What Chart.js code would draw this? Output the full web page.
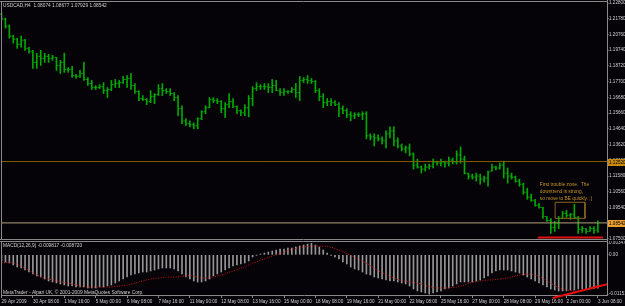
<!DOCTYPE html>
<html>
<head>
<meta charset="utf-8">
<script src="https://cdn.jsdelivr.net/npm/chart.js@4.4.0/dist/chart.umd.min.js"></script>
<style>
  html, body { margin: 0; padding: 0; background: #050308; }
  #wrap { position: relative; width: 625px; height: 306px; overflow: hidden; background: #050308; }
  #priceChart { position: absolute; left: 0; top: 0; }
  #macdChart { position: absolute; left: 0; top: 241px; }
</style>
</head>
<body>
<div id="wrap">
  <canvas id="priceChart" width="625" height="241"></canvas>
  <canvas id="macdChart" width="625" height="65"></canvas>
</div>
<script>
// USDCAD H4, bar 0 = 29 Apr 2009 00:00
const opens = [
  1.2208, 1.2176, 1.2130, 1.2065, 1.2045, 1.2012, 1.2039, 1.1986, 1.1967, 1.1895,
  1.1934, 1.1921, 1.1934, 1.1921, 1.1928, 1.1875, 1.1895, 1.1849, 1.1849, 1.1810,
  1.1804, 1.1823, 1.1784, 1.1758, 1.1732, 1.1732, 1.1738, 1.1712, 1.1719, 1.1751,
  1.1758, 1.1764, 1.1784, 1.1791, 1.1745, 1.1706, 1.1660, 1.1654, 1.1641, 1.1673,
  1.1686, 1.1725, 1.1712, 1.1706, 1.1693, 1.1667, 1.1595, 1.1516, 1.1497, 1.1490,
  1.1484, 1.1530, 1.1575, 1.1601, 1.1654, 1.1647, 1.1641, 1.1595, 1.1621, 1.1641,
  1.1608, 1.1582, 1.1569, 1.1601, 1.1660, 1.1725, 1.1738, 1.1738, 1.1738, 1.1732,
  1.1745, 1.1712, 1.1699, 1.1706, 1.1706, 1.1719, 1.1699, 1.1778, 1.1784, 1.1778,
  1.1771, 1.1712, 1.1673, 1.1634, 1.1641, 1.1634, 1.1621, 1.1595, 1.1582, 1.1556,
  1.1549, 1.1556, 1.1556, 1.1562, 1.1419, 1.1412, 1.1406, 1.1399, 1.1386, 1.1432,
  1.1451, 1.1386, 1.1353, 1.1334, 1.1340, 1.1301, 1.1229, 1.1216, 1.1203, 1.1216,
  1.1223, 1.1249, 1.1242, 1.1249, 1.1242, 1.1262, 1.1249, 1.1295, 1.1268, 1.1177,
  1.1158, 1.1151, 1.1158, 1.1138, 1.1145, 1.1190, 1.1216, 1.1210, 1.1229, 1.1177,
  1.1158, 1.1151, 1.1125, 1.1105, 1.1053, 1.1021, 1.1001, 1.0968, 1.0955, 1.0896,
  1.0870, 1.0825, 1.0851, 1.0883, 1.0916, 1.0903, 1.0910, 1.0890, 1.0812, 1.0818,
  1.0799, 1.0818, 1.08074
];
const highs = [
  1.2215, 1.2182, 1.2137, 1.2071, 1.2052, 1.2065, 1.2045, 1.1993, 1.1973, 1.1954,
  1.1973, 1.1954, 1.1947, 1.1941, 1.1928, 1.1908, 1.1954, 1.1862, 1.1869, 1.1817,
  1.1843, 1.1895, 1.1797, 1.1778, 1.1745, 1.1751, 1.1764, 1.1732, 1.1778, 1.1784,
  1.1778, 1.1804, 1.1810, 1.1823, 1.1758, 1.1712, 1.1680, 1.1660, 1.1712, 1.1693,
  1.1751, 1.1758, 1.1725, 1.1725, 1.1699, 1.1680, 1.1614, 1.1530, 1.1516, 1.1503,
  1.1536, 1.1582, 1.1614, 1.1667, 1.1667, 1.1660, 1.1647, 1.1634, 1.1693, 1.1660,
  1.1614, 1.1588, 1.1621, 1.1680, 1.1738, 1.1764, 1.1751, 1.1758, 1.1758, 1.1784,
  1.1778, 1.1725, 1.1725, 1.1712, 1.1732, 1.1758, 1.1804, 1.1797, 1.1810, 1.1791,
  1.1778, 1.1725, 1.1693, 1.1660, 1.1660, 1.1647, 1.1634, 1.1614, 1.1595, 1.1575,
  1.1569, 1.1569, 1.1575, 1.1575, 1.1432, 1.1432, 1.1425, 1.1412, 1.1451, 1.1477,
  1.1477, 1.1406, 1.1366, 1.1353, 1.1366, 1.1308, 1.1268, 1.1223, 1.1236, 1.1236,
  1.1268, 1.1255, 1.1268, 1.1255, 1.1282, 1.1275, 1.1321, 1.1347, 1.1288, 1.1177,
  1.1171, 1.1177, 1.1171, 1.1158, 1.1190, 1.1236, 1.1223, 1.1242, 1.1255, 1.1210,
  1.1177, 1.1158, 1.1138, 1.1112, 1.1079, 1.1040, 1.1007, 1.0981, 1.0955, 1.0896,
  1.0883, 1.0864, 1.0896, 1.0929, 1.0936, 1.0916, 1.0975, 1.0896, 1.0831, 1.0818,
  1.0831, 1.0831, 1.08677
];
const lows = [
  1.2169, 1.2117, 1.2052, 1.2019, 1.1986, 1.1993, 1.1973, 1.1954, 1.1856, 1.1856,
  1.1875, 1.1895, 1.1895, 1.1908, 1.1843, 1.1823, 1.1830, 1.1830, 1.1797, 1.1791,
  1.1797, 1.1778, 1.1745, 1.1719, 1.1719, 1.1725, 1.1693, 1.1667, 1.1712, 1.1732,
  1.1732, 1.1758, 1.1732, 1.1719, 1.1693, 1.1647, 1.1647, 1.1621, 1.1634, 1.1627,
  1.1680, 1.1680, 1.1693, 1.1680, 1.1647, 1.1549, 1.1497, 1.1484, 1.1477, 1.1464,
  1.1464, 1.1523, 1.1562, 1.1601, 1.1634, 1.1627, 1.1569, 1.1536, 1.1601, 1.1601,
  1.1562, 1.1549, 1.1549, 1.1543, 1.1614, 1.1712, 1.1719, 1.1719, 1.1699, 1.1699,
  1.1712, 1.1680, 1.1680, 1.1693, 1.1699, 1.1667, 1.1647, 1.1764, 1.1758, 1.1758,
  1.1699, 1.1647, 1.1601, 1.1614, 1.1614, 1.1614, 1.1543, 1.1562, 1.1536, 1.1516,
  1.1530, 1.1543, 1.1523, 1.1399, 1.1392, 1.1353, 1.1386, 1.1366, 1.1340, 1.1406,
  1.1353, 1.1340, 1.1321, 1.1308, 1.1288, 1.1203, 1.1210, 1.1177, 1.1190, 1.1203,
  1.1210, 1.1229, 1.1223, 1.1216, 1.1223, 1.1236, 1.1236, 1.1242, 1.1171, 1.1138,
  1.1138, 1.1125, 1.1105, 1.1118, 1.1092, 1.1190, 1.1197, 1.1203, 1.1145, 1.1112,
  1.1138, 1.1118, 1.1092, 1.1040, 1.1007, 1.0994, 1.0962, 1.0949, 1.0883, 1.0864,
  1.0786, 1.0799, 1.0818, 1.0883, 1.0890, 1.0877, 1.0883, 1.0786, 1.0792, 1.0786,
  1.0799, 1.0786, 1.07929
];
const closes = [
  1.2176, 1.2130, 1.2065, 1.2045, 1.2012, 1.2039, 1.1986, 1.1967, 1.1895, 1.1934,
  1.1921, 1.1934, 1.1921, 1.1928, 1.1875, 1.1895, 1.1849, 1.1849, 1.1810, 1.1804,
  1.1823, 1.1784, 1.1758, 1.1732, 1.1732, 1.1738, 1.1712, 1.1719, 1.1751, 1.1758,
  1.1764, 1.1784, 1.1791, 1.1745, 1.1706, 1.1660, 1.1654, 1.1641, 1.1673, 1.1686,
  1.1725, 1.1712, 1.1706, 1.1693, 1.1667, 1.1595, 1.1516, 1.1497, 1.1490, 1.1484,
  1.1530, 1.1575, 1.1601, 1.1654, 1.1647, 1.1641, 1.1595, 1.1621, 1.1641, 1.1608,
  1.1582, 1.1569, 1.1601, 1.1660, 1.1725, 1.1738, 1.1738, 1.1738, 1.1732, 1.1745,
  1.1712, 1.1699, 1.1706, 1.1706, 1.1719, 1.1699, 1.1778, 1.1784, 1.1778, 1.1771,
  1.1712, 1.1673, 1.1634, 1.1641, 1.1634, 1.1621, 1.1595, 1.1582, 1.1556, 1.1549,
  1.1556, 1.1556, 1.1562, 1.1419, 1.1412, 1.1406, 1.1399, 1.1386, 1.1432, 1.1451,
  1.1386, 1.1353, 1.1334, 1.1340, 1.1301, 1.1229, 1.1216, 1.1203, 1.1216, 1.1223,
  1.1249, 1.1242, 1.1249, 1.1242, 1.1262, 1.1249, 1.1295, 1.1268, 1.1177, 1.1158,
  1.1151, 1.1158, 1.1138, 1.1145, 1.1184, 1.1216, 1.1210, 1.1229, 1.1177, 1.1158,
  1.1151, 1.1125, 1.1105, 1.1053, 1.1021, 1.1001, 1.0968, 1.0955, 1.0896, 1.0870,
  1.0825, 1.0851, 1.0883, 1.0916, 1.0903, 1.0910, 1.0890, 1.0812, 1.0818, 1.0799,
  1.0818, 1.0807, 1.08542
];

// MACD(12,26,9) main (histogram) and signal
const macdMain = [
  -0.00181, -0.00211, -0.00240, -0.00299, -0.00358, -0.00387, -0.00446, -0.00505, -0.00564, -0.00622,
  -0.00652, -0.00711, -0.00770, -0.00799, -0.00828, -0.00858, -0.00887, -0.00917, -0.00917, -0.00946,
  -0.00946, -0.00946, -0.00975, -0.00975, -0.00975, -0.00946, -0.00946, -0.00917, -0.00887, -0.00828,
  -0.00770, -0.00711, -0.00652, -0.00593, -0.00564, -0.00534, -0.00505, -0.00505, -0.00476, -0.00446,
  -0.00417, -0.00387, -0.00387, -0.00387, -0.00417, -0.00476, -0.00564, -0.00652, -0.00711, -0.00770,
  -0.00799, -0.00799, -0.00770, -0.00711, -0.00622, -0.00564, -0.00505, -0.00446, -0.00387, -0.00328,
  -0.00299, -0.00270, -0.00240, -0.00181, -0.00064, -0.00005, 0.00024, 0.00054, 0.00083, 0.00113,
  0.00142, 0.00171, 0.00171, 0.00201, 0.00201, 0.00230, 0.00260, 0.00289, 0.00318, 0.00348,
  0.00289, 0.00230, 0.00142, 0.00054, -0.00005, -0.00064, -0.00123, -0.00211, -0.00270, -0.00358,
  -0.00417, -0.00446, -0.00505, -0.00564, -0.00593, -0.00652, -0.00681, -0.00711, -0.00740, -0.00770,
  -0.00770, -0.00799, -0.00828, -0.00858, -0.00917, -0.01005, -0.01063, -0.01093, -0.01122, -0.01152,
  -0.01122, -0.01093, -0.01063, -0.01005, -0.00975, -0.00917, -0.00858, -0.00799, -0.00799, -0.00799,
  -0.00799, -0.00770, -0.00740, -0.00681, -0.00622, -0.00534, -0.00476, -0.00446, -0.00446, -0.00446,
  -0.00476, -0.00505, -0.00534, -0.00593, -0.00652, -0.00711, -0.00770, -0.00828, -0.00887, -0.00946,
  -0.01005, -0.01034, -0.01063, -0.01063, -0.01063, -0.01034, -0.01034, -0.01005, -0.01005, -0.01005,
  -0.01005, -0.00990, -0.00982
];
const macdSignal = [
  -0.00240, -0.00226, -0.00211, -0.00240, -0.00270, -0.00328, -0.00387, -0.00446, -0.00534, -0.00593,
  -0.00652, -0.00681, -0.00711, -0.00740, -0.00770, -0.00799, -0.00813, -0.00828, -0.00858, -0.00887,
  -0.00917, -0.00931, -0.00946, -0.00946, -0.00946, -0.00946, -0.00946, -0.00946, -0.00946, -0.00931,
  -0.00917, -0.00902, -0.00887, -0.00858, -0.00828, -0.00799, -0.00770, -0.00740, -0.00711, -0.00696,
  -0.00681, -0.00667, -0.00652, -0.00652, -0.00652, -0.00652, -0.00622, -0.00622, -0.00608, -0.00622,
  -0.00652, -0.00681, -0.00681, -0.00681, -0.00652, -0.00622, -0.00593, -0.00564, -0.00505, -0.00476,
  -0.00446, -0.00387, -0.00358, -0.00299, -0.00240, -0.00211, -0.00152, -0.00123, -0.00079, -0.00034,
  -0.00005, 0.00039, 0.00083, 0.00127, 0.00157, 0.00186, 0.00216, 0.00230, 0.00245, 0.00260,
  0.00260, 0.00260, 0.00260, 0.00245, 0.00230, 0.00186, 0.00142, 0.00098, 0.00039, -0.00020,
  -0.00064, -0.00137, -0.00196, -0.00240, -0.00314, -0.00387, -0.00461, -0.00520, -0.00578, -0.00637,
  -0.00681, -0.00725, -0.00755, -0.00784, -0.00799, -0.00813, -0.00828, -0.00858, -0.00902, -0.00931,
  -0.00960, -0.00975, -0.00975, -0.00975, -0.00975, -0.00960, -0.00946, -0.00917, -0.00887, -0.00843,
  -0.00813, -0.00784, -0.00770, -0.00755, -0.00740, -0.00740, -0.00725, -0.00711, -0.00696, -0.00681,
  -0.00652, -0.00622, -0.00593, -0.00578, -0.00564, -0.00564, -0.00593, -0.00637, -0.00696, -0.00755,
  -0.00843, -0.00902, -0.00960, -0.01005, -0.01034, -0.01049, -0.01063, -0.01063, -0.01049, -0.01020,
  -0.00980, -0.00930, -0.00872
];

// axis labels
const priceTicks = [1.22800, 1.21780, 1.20760, 1.19740, 1.18720, 1.17700, 1.16680, 1.15660,
  1.14640, 1.13620, 1.12600, 1.11580, 1.10560, 1.09540, 1.08520, 1.07500];
const macdTicks = [0.003479, 0, -0.011518];
const macdTickLabels = ['0.003479', '0.00', '-0.011518'];
const dateTicks = [0, 8, 16, 24, 32, 40, 48, 56, 64, 72, 80, 88, 96, 104, 112, 120, 128, 136, 144, 152];
const dateLabels = ['29 Apr 2009', '30 Apr 08:00', '1 May 16:00', '5 May 00:00', '6 May 08:00',
  '7 May 16:00', '11 May 00:00', '12 May 08:00', '13 May 16:00', '15 May 00:00', '18 May 08:00',
  '19 May 16:00', '21 May 00:00', '22 May 08:00', '25 May 16:00', '27 May 00:00', '28 May 08:00',
  '29 May 16:00', '2 Jun 00:00', '3 Jun 08:00'];

// chart objects (horizontal line, bid, trouble zone box, support line, MACD trend line)
const hLineLevel = 1.12520;
const bidLevel = 1.08542;
const zoneBars = [141.1, 148.7];
const zonePrices = [1.0988, 1.0884];
const supportBars = [136.7, 153.3];
const supportLevel = 1.07595;
const macdTrendBars = [140.5, 154.3];
const macdTrendValues = [-0.01269, -0.00867];
const noteBar = 137.2;
const notePrice = 1.1099;
const noteLines = ['First trouble zone.  The', 'downtrend is strong,', 'so move to BE quickly. ;)'];

const headerText = 'USDCAD,H4  1.08074 1.08677 1.07929 1.08542';
const macdTitle = 'MACD(12,26,9) -0.009817 -0.008720';
const footerText = 'MetaTrader - Alpari UK, \u00a9 2001-2009 MetaQuotes Software Corp.';

// scale ranges
const xMin = -0.13, xMax = 154.32;
const priceMin = 1.07499, priceMax = 1.22865;
const macdMin = -0.011812, macdMax = 0.003479;

const barColor = '#00a800';
const frameColor = '#8a8a8a';
const textColor = '#cfcfcf';
const fontFamily = '"Liberation Sans", sans-serif';
const smallFont = '4.8px ' + fontFamily;
const tickFont = { size: 4.6, family: fontFamily };

// open / close ticks of OHLC bars
const ohlcTicks = {
	id: 'ohlcTicks',
	afterDatasetsDraw(chart) {
		const ctx = chart.ctx;
		const xs = chart.scales.x, ys = chart.scales.y;
		ctx.save();
		ctx.fillStyle = barColor;
		for (let i = 0; i < opens.length; i++) {
			const px = xs.getPixelForValue(i);
			ctx.fillRect(px - 1.7, ys.getPixelForValue(opens[i]) - 0.5, 1.2, 1); // open
			ctx.fillRect(px + 0.5, ys.getPixelForValue(closes[i]) - 0.5, 1.2, 1); // close
		}
		ctx.restore();
	}
};

// price window frame, header, price boxes, note
const priceFrame = {
	id: 'priceFrame',
	afterDraw(chart) {
		const ctx = chart.ctx;
		const a = chart.chartArea;
		const xs = chart.scales.x, ys = chart.scales.y;
		ctx.save();
		ctx.strokeStyle = frameColor;
		ctx.lineWidth = 1;
		ctx.beginPath();
		ctx.moveTo(0, a.top - 0.5); ctx.lineTo(a.right, a.top - 0.5);
		ctx.moveTo(a.left + 0.5, a.top - 0.5); ctx.lineTo(a.left + 0.5, a.bottom + 1);
		ctx.moveTo(0, a.bottom + 0.5); ctx.lineTo(a.right, a.bottom + 0.5);
		ctx.moveTo(a.right + 0.5, 0); ctx.lineTo(a.right + 0.5, chart.height);
		ctx.stroke();

		ctx.font = smallFont;
		ctx.textBaseline = 'middle';
		ctx.textAlign = 'left';
		ctx.fillStyle = textColor;
		ctx.fillText(headerText, 3, a.top + 3.5);

		// price labels of the lines on the scale
		ctx.font = tickFont.size + 'px ' + fontFamily;
		[[hLineLevel, '#c88a10'], [bidLevel, '#e8a030']].forEach(function(item) {
			const y = ys.getPixelForValue(item[0]);
			ctx.fillStyle = item[1];
			ctx.fillRect(a.right + 1, Math.round(y) - 3, 17, 7);
			ctx.fillStyle = '#000000';
			ctx.fillText(item[0].toFixed(5), a.right + 2, Math.round(y) + 0.5);
		});

		// text object
		ctx.font = smallFont;
		ctx.fillStyle = '#c8962c';
		noteLines.forEach(function(t, k) {
			ctx.fillText(t, xs.getPixelForValue(noteBar), ys.getPixelForValue(notePrice) + k * 7);
		});
		ctx.restore();
	}
};

// MACD window frame and texts
const macdFrame = {
	id: 'macdFrame',
	afterDraw(chart) {
		const ctx = chart.ctx;
		const a = chart.chartArea;
		ctx.save();
		ctx.strokeStyle = frameColor;
		ctx.lineWidth = 1;
		ctx.beginPath();
		ctx.moveTo(0, a.top - 1.5); ctx.lineTo(a.right, a.top - 1.5);
		ctx.moveTo(a.left + 0.5, a.top - 1.5); ctx.lineTo(a.left + 0.5, a.bottom);
		ctx.moveTo(a.right + 0.5, 0); ctx.lineTo(a.right + 0.5, a.bottom + 1);
		ctx.stroke();
		ctx.font = smallFont;
		ctx.textBaseline = 'middle';
		ctx.textAlign = 'left';
		ctx.fillStyle = textColor;
		ctx.fillText(macdTitle, 3, a.top + 2.5);
		ctx.fillText(footerText, 3, a.bottom - 2.5);
		ctx.restore();
	}
};

function levelLine(v) {
	return [{ x: xMin, y: v }, { x: xMax, y: v }];
}

function noPad(scale) {
	scale.paddingTop = 0; scale.paddingBottom = 0;
	scale.paddingLeft = 0; scale.paddingRight = 0;
}

// price chart
let priceChart = new Chart(document.getElementById('priceChart'), {
	type: 'bar',
	data: {
		datasets: [
			{
				type: 'line', data: levelLine(hLineLevel), borderColor: '#7f5f00',
				borderWidth: 1, pointRadius: 0, order: 0
			},
			{
				type: 'line', data: levelLine(bidLevel), borderColor: '#b4a278',
				borderWidth: 1, pointRadius: 0, order: 0
			},
			{
				type: 'line',
				data: [
					{ x: zoneBars[0], y: zonePrices[0] }, { x: zoneBars[1], y: zonePrices[0] },
					{ x: zoneBars[1], y: zonePrices[1] }, { x: zoneBars[0], y: zonePrices[1] },
					{ x: zoneBars[0], y: zonePrices[0] }
				],
				borderColor: '#8c6420', borderWidth: 1, pointRadius: 0, order: 0
			},
			{
				type: 'line',
				data: [{ x: supportBars[0], y: supportLevel }, { x: supportBars[1], y: supportLevel }],
				borderColor: '#e01010', borderWidth: 2, pointRadius: 0, order: 0
			},
			{
				type: 'bar',
				data: highs.map(function(h, i) { return { x: i, y: [lows[i], h] }; }),
				backgroundColor: barColor, borderWidth: 0, barThickness: 1, order: 2
			}
		]
	},
	options: {
		responsive: false,
		animation: false,
		devicePixelRatio: 1,
		events: [],
		layout: { padding: { left: 1, top: 2, right: 0, bottom: 2 } },
		plugins: { legend: { display: false }, tooltip: { enabled: false } },
		scales: {
			x: { type: 'linear', display: false, min: xMin, max: xMax, offset: false, grid: { offset: false } },
			y: {
				position: 'right',
				min: priceMin, max: priceMax, bounds: 'data',
				afterBuildTicks: function(scale) {
					scale.ticks = priceTicks.map(function(v) { return { value: v }; });
				},
				afterFit: function(scale) { scale.width = 18; noPad(scale); },
				ticks: {
					color: textColor, font: tickFont, padding: 0.5, autoSkip: false,
					callback: function(v) { return v.toFixed(5); }
				},
				grid: { drawOnChartArea: false, color: frameColor, tickLength: 1.5 },
				border: { color: frameColor }
			}
		}
	},
	plugins: [ohlcTicks, priceFrame]
});

// MACD chart
let macdChart = new Chart(document.getElementById('macdChart'), {
	type: 'bar',
	data: {
		datasets: [
			{
				type: 'line',
				data: macdSignal.map(function(v, i) { return { x: i, y: v }; }),
				borderColor: '#d01818', borderWidth: 1, borderDash: [1, 1.5],
				pointRadius: 0, order: 0
			},
			{
				type: 'line',
				data: [{ x: macdTrendBars[0], y: macdTrendValues[0] }, { x: macdTrendBars[1], y: macdTrendValues[1] }],
				borderColor: '#e80c0c', borderWidth: 2, pointRadius: 0, clip: false, order: 0
			},
			{
				type: 'bar',
				data: macdMain.map(function(v, i) { return { x: i, y: v }; }),
				backgroundColor: '#969696', borderWidth: 0, barThickness: 1, order: 2
			}
		]
	},
	options: {
		responsive: false,
		animation: false,
		devicePixelRatio: 1,
		events: [],
		layout: { padding: { left: 1, top: 2, right: 0, bottom: 0 } },
		plugins: { legend: { display: false }, tooltip: { enabled: false } },
		scales: {
			x: {
				type: 'linear', min: xMin, max: xMax, offset: false, bounds: 'data',
				afterBuildTicks: function(scale) {
					scale.ticks = dateTicks.map(function(v) { return { value: v }; });
				},
				afterFit: function(scale) { scale.height = 11; noPad(scale); },
				ticks: {
					color: textColor, font: tickFont, padding: 1, autoSkip: false,
					maxRotation: 0, align: 'start',
					callback: function(v, i) { return dateLabels[i]; }
				},
				grid: { drawOnChartArea: false, offset: false, color: frameColor, tickLength: 3 },
				border: { color: frameColor }
			},
			y: {
				position: 'right',
				min: macdMin, max: macdMax, bounds: 'data',
				afterBuildTicks: function(scale) {
					scale.ticks = macdTicks.map(function(v) { return { value: v }; });
				},
				afterFit: function(scale) { scale.width = 18; noPad(scale); },
				ticks: {
					color: textColor, font: tickFont, padding: 0.5, autoSkip: false,
					callback: function(v, i) { return macdTickLabels[i]; }
				},
				grid: { drawOnChartArea: false, color: frameColor, tickLength: 1.5 },
				border: { color: frameColor }
			}
		}
	},
	plugins: [macdFrame]
});
</script>
</body>
</html>
